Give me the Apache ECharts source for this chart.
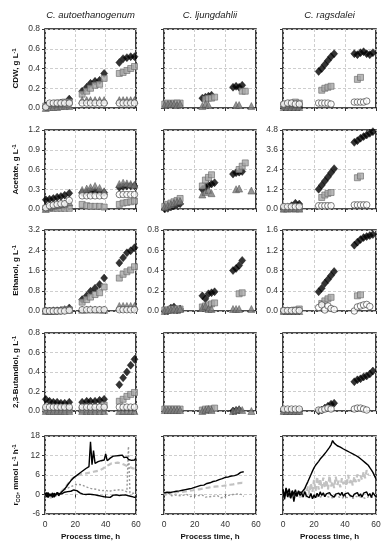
<!DOCTYPE html>
<html><head><meta charset="utf-8">
<script src="https://cdn.jsdelivr.net/npm/echarts/dist/echarts.min.js"></script>
<style>html,body{margin:0;padding:0;background:#fff}#c{width:391px;height:550px}</style>
</head><body><div id="c"></div>
<script>
const species = ['C. autoethanogenum','C. ljungdahlii','C. ragsdalei'];
const xTicks = [0, 20, 40, 60];

// sampling times (h)
const timeA = [0.5,3,5.5,8,10.5,13,16, 24.5,27.5,30,33,36,39, 49,51.5,54,56.5,59];
const timeB = [0.5,2.5,4.5,6.5,8.5,10.5, 25,27,29,31,33, 45,47,49,51,53, 57];
const timeC = [0.5,3,5.5,8,10.5, 23,25,27,29,31,33, 46,48,50,52,54,56,58];

// ---- C. autoethanogenum ----
const cdwA_dia = [0.02,0.03,0.04,0.04,0.05,0.05,0.09, 0.17,0.21,0.25,0.27,0.28,0.35, 0.46,0.50,0.51,0.52,0.52];
const cdwA_sq  = [0.02,0.03,0.04,0.05,0.05,0.06,0.06, 0.14,0.17,0.20,0.23,0.24,0.30, 0.35,0.36,0.38,0.40,0.42];
const cdwA_tri = [0.00,0.01,0.01,0.01,0.02,0.02,0.02, 0.08,0.08,0.08,0.08,0.08,0.08, 0.08,0.08,0.08,0.08,0.08];
const cdwA_cir = [0.01,0.05,0.05,0.05,0.05,0.05,0.05, 0.05,0.05,0.05,0.05,0.05,0.05, 0.05,0.05,0.05,0.05,0.05];

const accA_dia = [0.14,0.15,0.16,0.18,0.19,0.21,0.24, 0.25,0.26,0.27,0.27,0.26,0.25, 0.33,0.34,0.35,0.35,0.35];
const accA_sq  = [0.01,0.01,0.01,0.01,0.01,0.01,0.01, 0.07,0.05,0.04,0.04,0.04,0.03, 0.07,0.09,0.10,0.11,0.12];
const accA_tri = [0.00,0.03,0.05,0.06,0.07,0.08,0.10, 0.29,0.31,0.33,0.35,0.32,0.27, 0.38,0.40,0.39,0.38,0.37];
const accA_cir = [0.02,0.05,0.06,0.07,0.08,0.08,0.13, 0.20,0.20,0.20,0.20,0.20,0.20, 0.22,0.22,0.22,0.22,0.22];

const etoA_dia = [0.00,0.00,0.01,0.01,0.02,0.03,0.12, 0.45,0.60,0.78,0.90,1.05,1.30, 1.90,2.10,2.30,2.38,2.50];
const etoA_sq  = [0.00,0.00,0.00,0.01,0.02,0.05,0.05, 0.35,0.45,0.55,0.65,0.72,0.95, 1.30,1.45,1.55,1.62,1.75];
const etoA_tri = [0.00,0.00,0.01,0.02,0.03,0.08,0.05, 0.05,0.06,0.07,0.06,0.06,0.05, 0.20,0.20,0.20,0.20,0.20];
const etoA_cir = [0.00,0.00,0.00,0.00,0.00,0.00,0.03, 0.05,0.05,0.05,0.05,0.05,0.05, 0.05,0.05,0.05,0.05,0.05];

const bdoA_dia = [0.12,0.10,0.09,0.09,0.08,0.08,0.09, 0.09,0.10,0.10,0.10,0.11,0.12, 0.27,0.34,0.40,0.47,0.53];
const bdoA_sq  = [0.01,0.01,0.01,0.01,0.01,0.01,0.01, 0.01,0.01,0.01,0.01,0.02,0.06, 0.10,0.12,0.15,0.17,0.19];
const bdoA_tri = [0.00,0.00,0.00,0.00,0.00,0.00,0.00, 0.00,0.00,0.00,0.00,0.00,0.00, 0.00,0.00,0.00,0.00,0.00];
const bdoA_cir = [0.04,0.04,0.04,0.04,0.04,0.04,0.04, 0.04,0.04,0.04,0.04,0.04,0.04, 0.04,0.04,0.04,0.04,0.04];

// ---- C. ljungdahlii ----
const cdwB_dia = [null,null,null,null,null,null, 0.10,0.11,0.12,0.13,null, 0.21,0.22,0.21,0.23,null, null];
const cdwB_sq  = [0.04,0.05,0.04,0.05,0.05,0.05, null,0.09,0.10,0.10,0.11, null,null,null,0.17,0.17, null];
const cdwB_tri = [0.03,0.04,0.04,0.04,0.03,0.04, 0.02,0.04,0.03,null,null, null,0.03,0.03,null,null, 0.02];

const accB_dia = [0.00,0.01,0.03,0.05,0.07,0.08, 0.30,0.33,0.36,0.38,0.40, 0.53,0.55,0.56,0.57,null, null];
const accB_sq  = [0.04,0.07,0.09,0.11,0.13,0.16, 0.35,0.44,0.48,0.52,null, null,null,0.60,0.65,0.70, null];
const accB_tri = [0.03,0.05,0.07,0.09,0.11,0.12, 0.22,0.26,0.29,0.24,null, null,0.30,0.31,null,null, 0.28];

const etoB_dia = [0.00,0.00,0.03,0.04,0.01,0.02, 0.15,0.12,0.17,0.18,0.19, 0.40,0.42,0.45,0.50,null, null];
const etoB_sq  = [0.01,0.01,0.02,0.02,0.02,0.02, 0.04,0.05,0.06,0.07,0.08, null,null,0.17,0.18,null, null];
const etoB_tri = [0.00,0.01,0.01,0.02,0.01,0.02, 0.03,0.05,0.02,0.02,null, 0.02,0.02,0.02,null,null, 0.02];

const bdoB_dia = [null,null,null,null,null,null, null,null,null,null,null, 0.00,0.005,0.01,null,null, null];
const bdoB_sq  = [0.02,0.02,0.02,0.02,0.02,0.02, 0.01,0.02,0.02,0.02,0.03, null,null,null,null,null, null];
const bdoB_tri = [0.01,0.01,0.01,0.01,0.01,0.01, 0.00,0.01,0.02,0.01,null, 0.00,0.01,0.02,0.01,null, 0.00];

// ---- C. ragsdalei ----
const cdwC_dia = [0.01,0.01,0.01,0.01,0.01, 0.37,0.40,0.44,0.48,0.52,0.55, 0.55,0.54,0.56,0.57,0.55,0.54,0.56];
const cdwC_sq  = [0.03,0.04,0.05,0.06,0.05, null,0.18,0.20,0.21,0.22,null, null,0.29,0.31,null,null,null,null];
const cdwC_tri = [0.01,0.01,0.01,0.01,0.01, null,null,null,null,null,null, null,null,null,null,null,null,null];
const cdwC_cir = [0.04,0.05,0.05,0.04,0.04, 0.05,0.05,0.05,0.05,0.04,null, 0.06,0.06,0.06,0.06,0.07,null,null];

const accC_dia = [0.05,0.10,0.20,0.35,0.30, 1.20,1.45,1.70,1.95,2.20,2.45, 4.05,4.15,4.30,4.40,4.50,4.60,4.70];
const accC_sq  = [0.02,0.02,0.03,0.03,0.03, null,0.70,0.85,0.95,1.00,null, null,1.90,2.00,null,null,null,null];
const accC_tri = [0.02,0.03,0.03,0.03,0.02, null,null,null,null,null,null, null,null,null,null,null,null,null];
const accC_cir = [0.15,0.15,0.15,0.15,0.15, 0.20,0.20,0.20,0.20,0.20,null, 0.25,0.25,0.25,0.25,0.25,null,null];

const etoC_dia = [0.00,0.00,0.00,0.00,0.00, 0.38,0.45,0.55,0.62,0.70,0.78, 1.30,1.36,1.41,1.45,1.47,1.49,1.51];
const etoC_sq  = [0.00,0.00,0.00,0.02,0.04, null,0.15,0.20,0.24,0.27,null, null,0.30,0.32,null,null,null,null];
const etoC_tri = [0.00,0.00,0.00,0.00,0.00, null,null,null,null,null,null, null,null,null,null,null,null,null];
const etoC_cir = [0.01,0.01,0.01,0.01,0.01, 0.07,0.12,0.02,0.10,0.05,0.03, 0.00,0.08,0.10,0.12,0.13,0.09,null];

const bdoC_dia = [0.00,0.00,0.00,0.00,0.00, 0.00,0.01,0.03,0.05,0.07,0.08, 0.30,0.32,0.33,0.35,0.36,0.38,0.41];
const bdoC_sq  = [0.00,0.00,0.00,0.00,0.00, null,null,null,null,null,null, null,null,null,null,null,null,null];
const bdoC_tri = [0.00,0.00,0.00,0.00,0.00, null,null,null,null,null,null, null,null,null,null,null,null,null];
const bdoC_cir = [0.02,0.02,0.02,0.02,0.02, 0.01,0.01,0.02,0.03,0.02,null, 0.02,0.03,0.03,0.02,0.01,null,null];

// ---- CO uptake rate (mmol L-1 h-1) ----
const rTime = [0,1,2,3,4,5,6,7,8,9,10,11,12,13,14,15,16,17,18,19,20,21,22,23,24,25,26,27,28,29,30,31,32,33,34,35,36,37,38,39,40,41,42,43,44,45,46,47,48,49,50,51,52,53,54,55,56,57,58,59,60];
const rA_high = [0.5,-0.8,0.6,-0.5,0.2,-0.9,0.4,-0.3,0.7,-0.4,0.3,0.8,1.2,1.8,2.3,3.0,3.4,4.2,4.6,5.2,5.5,5.9,6.3,6.6,6.8,7.3,7.6,8.0,8.3,8.6,16.2,9.2,13.5,9.6,9.9,10.1,10.0,10.4,10.2,10.6,12.5,10.4,10.9,11.2,11.5,11.8,12.1,11.9,12.3,12.0,11.6,12.1,11.4,11.1,11.5,10.8,11.2,10.5,11.0,10.6,11.2];
const rA_dash = [-0.5,0.2,-0.8,-0.2,-1.0,0.1,-0.6,-0.3,0.2,-0.4,0.5,1.0,1.5,2.0,2.6,3.2,3.8,4.3,4.9,5.3,5.6,5.8,6.0,6.1,6.3,6.2,6.4,6.3,6.6,6.5,6.8,6.7,7.0,6.9,7.2,7.1,7.4,7.7,7.9,8.3,8.6,8.8,9.1,9.3,9.6,9.8,9.7,10.0,9.8,9.9,9.6,9.4,9.2,9.0,8.8,8.7,8.5,8.2,8.0,7.8,8.0];
const rA_dot = [0.3,-0.5,0.1,-0.9,0.4,-0.3,0.2,-0.6,0.3,0.0,0.6,1.0,1.2,1.5,1.8,2.0,2.2,2.5,2.6,2.9,3.0,3.2,3.1,3.3,3.0,2.8,2.6,2.4,2.2,2.0,1.9,1.8,1.7,1.5,1.6,1.4,1.3,1.4,1.2,1.1,1.3,1.0,0.9,1.1,1.2,1.0,1.3,1.5,1.4,1.6,1.5,1.3,1.2,1.0,0.8,14.8,0.5,0.6,0.4,0.7,0.5];
const rA_low = [-0.3,0.6,-0.9,0.2,-0.5,0.5,-0.8,0.1,-0.4,0.3,-0.2,0.2,0.5,0.7,0.6,0.9,1.1,1.0,1.3,1.4,1.6,1.2,0.8,0.5,0.3,0.1,0.4,0.0,-0.2,0.1,-0.3,0.0,-0.4,-0.1,-0.6,-0.3,-0.8,-0.5,-1.1,-0.7,-1.3,-0.8,-0.5,-0.9,-0.4,-0.2,-0.6,-0.1,0.2,-0.3,0.1,-0.2,0.3,-0.1,0.2,-0.4,0.0,-0.6,-0.2,-0.9,-0.7];

const rB_high = [0.5,0.0,0.7,0.2,0.6,0.3,0.8,0.5,1.0,0.7,1.1,0.9,1.3,1.2,1.5,1.4,1.7,1.6,1.9,1.9,2.2,2.3,2.5,2.7,2.8,3.0,2.9,3.2,3.4,3.3,3.6,3.7,4.0,3.9,4.2,4.3,4.6,4.5,4.9,5.0,5.3,5.5,5.4,5.8,5.7,6.0,5.8,6.2,6.1,6.5,6.8,7.2,7.0];
const rB_dash = [0.6,-0.2,0.4,0.9,0.1,0.5,-0.1,0.6,0.3,0.8,0.2,0.7,0.4,0.9,0.6,1.0,0.8,1.2,1.0,1.3,1.1,1.5,1.3,1.6,1.5,1.8,1.6,2.0,1.8,2.1,2.0,2.3,2.1,2.4,2.2,2.5,2.3,2.6,2.4,2.7,2.5,2.8,2.6,3.0,2.8,3.1,2.9,3.3,3.1,3.5,3.3,3.6,3.4];
const rB_dot = [0.2,-0.3,0.4,-0.1,0.3,-0.4,0.1,-0.2,0.3,-0.3,0.0,-0.4,0.2,-0.2,-0.5,0.0,-0.3,-0.6,-0.2,-0.5,-0.1,-0.4,-0.7,-0.3,-0.6,-0.2,-0.5,-0.8,-0.4,-0.7,-0.3,-0.6,-0.9,-0.5,-0.8,-0.4,-0.7,-1.0,-0.6,-0.9,-0.5,-0.3,-0.6,-0.2,-0.4,0.0,-0.3,0.1,-0.2,0.2,-0.4,-0.1,-0.6];

const rC_high = [1.5,-0.5,2.0,0.3,1.8,-0.8,1.2,0.0,1.5,-0.3,0.8,0.2,0.6,1.0,1.8,2.9,3.9,5.0,6.1,7.2,8.2,9.0,9.6,10.2,10.9,11.5,12.0,12.6,13.2,13.8,14.5,15.3,16.6,15.8,15.5,15.0,14.8,14.6,14.2,14.0,13.8,13.5,13.6,13.0,12.8,12.5,12.6,12.0,11.8,11.4,11.0,10.6,10.4,9.8,9.5,9.0,8.3,7.6,6.8,5.8,4.8];
const rC_dash = [0.5,-1.0,1.2,-0.5,0.8,-1.2,0.3,-0.8,1.0,-0.4,0.6,-0.9,0.9,-0.5,1.8,-0.3,2.5,0.2,3.5,0.8,4.5,1.0,5.5,1.5,4.8,1.8,5.2,2.0,4.5,1.5,5.8,2.5,4.0,2.0,5.5,3.0,4.2,2.2,5.0,3.2,4.6,2.6,6.0,3.5,4.8,2.8,5.5,3.8,6.2,4.0,5.8,4.5,7.0,5.0,7.5,6.0];
const rC_dot = [-0.3,0.4,-0.6,0.2,-0.8,0.1,-0.5,0.3,-0.7,0.0,-0.4,0.2,-0.6,-0.1,-0.8,-0.3,-0.5,-0.9,-0.2,-0.7,-1.0,-0.4,-0.6,-0.2,-0.8,-0.5,-0.3,-0.9,-0.6,-0.4,-0.8,-0.5,-1.0,-0.6,-0.3,-0.9,-0.7,-0.5,-1.1,-0.6,-0.8,-0.4,-1.0,-0.7,-0.5,-1.2,-0.8,-0.6,-1.0,-0.7,-1.1,-0.8,-0.6,-1.2,-0.9,-0.7,-1.0,-0.8,-1.1,-0.9,-1.0];
const rC_low = [0.5,-1.5,1.8,-0.8,0.6,-1.2,1.0,-2.2,0.4,-0.6,1.2,-0.3,0.5,-0.8,0.9,-0.4,0.2,-1.0,0.3,-1.3,-0.2,-1.0,0.4,-0.6,0.8,-0.3,0.5,-0.7,0.2,-0.4,0.6,-0.2,0.3,-0.8,0.1,-0.5,0.4,-0.3,0.7,-0.6,0.2,-0.4,0.5,-0.2,0.3,-0.7,0.1,-0.3,0.6,-0.5,0.2,-0.8,0.4,-0.2,0.8,-0.4,0.3,-0.9,0.6,1.0,-0.8];

// ---------- layout ----------
const FONT = '"Liberation Sans", Arial, sans-serif';
const colLeft = [45, 164, 283], colWidth = [91, 92, 93];
const rowTop = [29, 130, 230, 333, 436], rowHeight = [79, 79, 81, 78, 78];
const yRange = [
  [[0,0.8,0.2],[0,0.8,0.2],[0,0.8,0.2]],
  [[0,1.2,0.3],[0,1.2,0.3],[0,4.8,1.2]],
  [[0,3.2,0.8],[0,0.8,0.2],[0,1.6,0.4]],
  [[0,0.8,0.2],[0,0.8,0.2],[0,0.8,0.2]],
  [[-6,18,6],[-6,18,6],[-6,18,6]]
];
const showYLab = [[1,0,0],[1,0,1],[1,1,1],[1,0,0],[1,0,0]];
const yNames = [
  '{b|CDW, g L}{sup|-1}',
  '{b|Acetate, g L}{sup|-1}',
  '{b|Ethanol, g L}{sup|-1}',
  '{b|2,3-Butandiol, g L}{sup|-1}',
  '{b|r}{sub|CO}{b|, mmol L}{sup|-1}{b| h}{sup|-1}'
];
const times = [timeA, timeB, timeC];
const scatterData = [
  [[cdwA_dia,cdwA_sq,cdwA_tri,cdwA_cir],[cdwB_dia,cdwB_sq,cdwB_tri,null],[cdwC_dia,cdwC_sq,cdwC_tri,cdwC_cir]],
  [[accA_dia,accA_sq,accA_tri,accA_cir],[accB_dia,accB_sq,accB_tri,null],[accC_dia,accC_sq,accC_tri,accC_cir]],
  [[etoA_dia,etoA_sq,etoA_tri,etoA_cir],[etoB_dia,etoB_sq,etoB_tri,null],[etoC_dia,etoC_sq,etoC_tri,etoC_cir]],
  [[bdoA_dia,bdoA_sq,bdoA_tri,bdoA_cir],[bdoB_dia,bdoB_sq,bdoB_tri,null],[bdoC_dia,bdoC_sq,bdoC_tri,bdoC_cir]]
];
const lineData = [
  [rA_high, rA_dash, rA_dot, rA_low],
  [rB_high, rB_dash, rB_dot, null],
  [rC_high, rC_dash, rC_dot, rC_low]
];

const markerStyle = [
  {symbol:'diamond', size:[7,8], itemStyle:{color:'#000', borderColor:'#000', borderWidth:0.5}},
  {symbol:'rect', size:6, itemStyle:{color:'#a8a8a8', borderColor:'#6a6a6a', borderWidth:0.8}},
  {symbol:'triangle', size:7, itemStyle:{color:'#7b7b7b', borderColor:'#4a4a4a', borderWidth:0.6}},
  {symbol:'circle', size:6.5, itemStyle:{color:'#fff', borderColor:'#333', borderWidth:0.8}}
];
const lineStyles = [
  {color:'#000', width:1.4, type:'solid'},
  {color:'#c2c2c2', width:2.2, type:[5,3]},
  {color:'#9a9a9a', width:1.4, type:[2,2]},
  {color:'#000', width:1.4, type:'solid'}
];

function pairs(t, v) {
  const out = [];
  for (let i = 0; i < v.length; i++) if (v[i] != null) out.push([t[i], v[i]]);
  return out;
}

const grid = [], xAxis = [], yAxis = [], series = [];
let gi = 0;
for (let r = 0; r < 5; r++) {
  for (let c = 0; c < 3; c++) {
    grid.push({left: colLeft[c], top: rowTop[r], width: colWidth[c], height: rowHeight[r],
      show: true, borderColor: '#111', borderWidth: 1.6, backgroundColor: 'transparent', containLabel: false});
    const isBottom = r === 4;
    xAxis.push({
      type: 'value', gridIndex: gi, min: 0, max: 60, interval: 20,
      axisLine: {show: false},
      axisTick: {show: true, length: 3, lineStyle: {color: '#333', width: 1}},
      axisLabel: {show: isBottom, fontSize: 8.5, color: '#333', margin: 6, fontFamily: FONT},
      splitLine: {show: true, lineStyle: {color: '#c8c8c8', type: [3,2], width: 0.9}},
      name: isBottom ? 'Process time, h' : '',
      nameLocation: 'middle', nameGap: 19,
      nameTextStyle: {fontSize: 8, fontWeight: 'bold', color: '#111', fontFamily: FONT}
    });
    const [mn, mx, iv] = yRange[r][c];
    yAxis.push({
      type: 'value', gridIndex: gi, min: mn, max: mx, interval: iv,
      axisLine: {show: false},
      axisTick: {show: true, length: 3, lineStyle: {color: '#333', width: 1}},
      axisLabel: {show: !!showYLab[r][c], fontSize: 8.5, color: '#333', margin: 5, fontFamily: FONT,
        formatter: v => r < 4 ? v.toFixed(1) : String(Math.round(v))},
      splitLine: {show: true, lineStyle: {color: '#c8c8c8', type: [3,2], width: 0.9}},
      name: c === 0 ? yNames[r] : '',
      nameLocation: 'middle', nameGap: 24,
      nameTextStyle: {fontFamily: FONT, color: '#111', rich: {
        b: {fontSize: 8, fontWeight: 'bold', color: '#111', fontFamily: FONT, lineHeight: 10},
        sup: {fontSize: 5.5, fontWeight: 'bold', color: '#111', fontFamily: FONT, verticalAlign: 'top', lineHeight: 10, padding: [0,0,3,0]},
        sub: {fontSize: 5.5, fontWeight: 'bold', color: '#111', fontFamily: FONT, verticalAlign: 'bottom', lineHeight: 10, padding: [3,0,0,0]}
      }}
    });
    if (r < 4) {
      const sets = scatterData[r][c];
      // draw order: diamond, square, triangle, circle
      for (let k = 0; k < 4; k++) {
        if (!sets[k]) continue;
        const ms = markerStyle[k];
        series.push({type: 'scatter', xAxisIndex: gi, yAxisIndex: gi,
          symbol: ms.symbol, symbolSize: ms.size, itemStyle: ms.itemStyle,
          data: pairs(times[c], sets[k]), z: 2 + k, clip: false});
      }
    } else {
      const sets = lineData[c];
      for (let k = 0; k < 4; k++) {
        if (!sets[k]) continue;
        series.push({type: 'line', xAxisIndex: gi, yAxisIndex: gi, showSymbol: false, symbol: 'none',
          lineStyle: lineStyles[k], data: pairs(rTime, sets[k]), z: 2 + (k === 0 ? 3 : k === 3 ? 2 : k), clip: true});
      }
    }
    gi++;
  }
}

const graphic = species.map((s, c) => ({
  type: 'text', x: colLeft[c] + colWidth[c] / 2, y: 15,
  style: {text: s, font: 'italic 9.5px ' + FONT, fill: '#222', align: 'center', verticalAlign: 'middle',
    textAlign: 'center', textVerticalAlign: 'middle'}
}));

const chart = echarts.init(document.getElementById('c'), null, {renderer: 'canvas'});
chart.setOption({animation: false, backgroundColor: '#fff', grid, xAxis, yAxis, series, graphic});
</script>
</body></html>
